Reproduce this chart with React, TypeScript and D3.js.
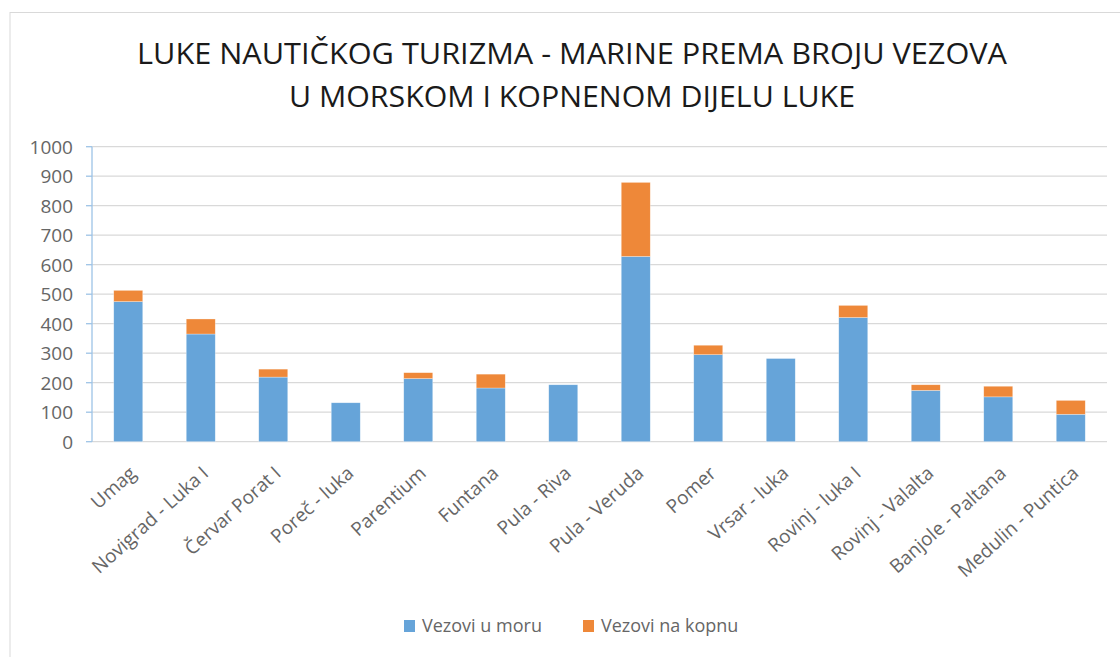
import * as d3 from "d3";

// marine names
const categories = [
  "Umag",
  "Novigrad - Luka I",
  "Červar Porat I",
  "Poreč - luka",
  "Parentium",
  "Funtana",
  "Pula - Riva",
  "Pula - Veruda",
  "Pomer",
  "Vrsar - luka",
  "Rovinj - luka I",
  "Rovinj - Valalta",
  "Banjole - Paltana",
  "Medulin - Puntica",
];
const seaBerths = [475, 365, 219, 132, 214, 182, 193, 628, 295, 282, 421, 174, 152, 93];
const landBerths = [38, 51, 27, 0, 20, 47, 0, 251, 32, 0, 41, 19, 36, 47];
const seriesNames = ["Vezovi u moru", "Vezovi na kopnu"];
const yTicks = [0, 100, 200, 300, 400, 500, 600, 700, 800, 900, 1000];
const titleLines = [
  "LUKE NAUTIČKOG TURIZMA - MARINE PREMA BROJU VEZOVA",
  "U MORSKOM I KOPNENOM DIJELU LUKE",
];

const colors = ["#66a4d9", "#ee8839"];
const font = "'Open Sans', 'DejaVu Sans', sans-serif";

export default function App() {
  const width = 1120, height = 657;
  const margin = { left: 92, right: 13, top: 146.7, bottom: 215.3 };

  const rows = categories.map((c, i) => ({ name: c, sea: seaBerths[i], land: landBerths[i] }));
  const stack = d3.stack<any>().keys(["sea", "land"]);
  const layers = stack(rows);

  const x = d3.scaleBand()
    .domain(categories)
    .range([margin.left, width - margin.right])
    .paddingInner(0.6)
    .paddingOuter(0.3);
  const y = d3.scaleLinear()
    .domain([0, 1000])
    .range([height - margin.bottom, margin.top]);

  return (
    <svg width={width} height={height}
      style={{ position: "absolute", left: 0, top: 0, background: "#fff" }}>
      {/* chart frame */}
      <rect x={10} y={12.5} width={width + 20} height={height + 20}
        fill="#fff" stroke="#d9d9d9" strokeWidth={1} />

      {/* title */}
      {titleLines.map((t, i) => (
        <text key={t} x={572} y={64 + i * 43} textAnchor="middle"
          fontFamily={font} fontSize={29} fill="#1a1a1a"
          textLength={i === 0 ? 870 : 566} lengthAdjust="spacingAndGlyphs">
          {t}
        </text>
      ))}

      {/* gridlines */}
      {yTicks.map(t => (
        <line key={"g" + t} x1={margin.left} x2={width - margin.right}
          y1={y(t)} y2={y(t)} stroke="#d9d9d9" strokeWidth={1.2} />
      ))}

      {/* bars */}
      {layers.map((layer, li) => (
        <g key={layer.key} fill={colors[li]}>
          {layer.map((d, i) => (
            d[1] - d[0] > 0 ? (
              <rect key={i} x={x(categories[i])} width={x.bandwidth()}
                y={y(d[1])} height={y(d[0]) - y(d[1])}
                stroke="#fff" strokeOpacity={0.5} strokeWidth={0.6} />
            ) : null
          ))}
        </g>
      ))}

      {/* y axis */}
      <line x1={margin.left} x2={margin.left} y1={y(0)} y2={y(1000)}
        stroke="#9dc3e6" strokeWidth={1.3} />
      {yTicks.map(t => (
        <g key={"t" + t}>
          <line x1={margin.left - 6} x2={margin.left} y1={y(t)} y2={y(t)}
            stroke="#9dc3e6" strokeWidth={1.3} />
          <text x={73} y={y(t)} dy="0.36em" textAnchor="end"
            fontFamily={font} fontSize={19} fill="#666">{t}</text>
        </g>
      ))}

      {/* x labels */}
      {categories.map(c => {
        const cx = x(c)! + x.bandwidth() / 2;
        return (
          <text key={"x" + c} transform={`translate(${cx + 9},${475}) rotate(-42)`}
            textAnchor="end" fontFamily={font} fontSize={19} fill="#666">{c}</text>
        );
      })}

      {/* legend */}
      {seriesNames.map((s, i) => {
        const lx = i === 0 ? 404 : 583;
        return (
          <g key={s}>
            <rect x={lx} y={620} width={11} height={12} fill={colors[i]} />
            <text x={lx + 18} y={632} fontFamily={font} fontSize={18} fill="#666">{s}</text>
          </g>
        );
      })}
    </svg>
  );
}
